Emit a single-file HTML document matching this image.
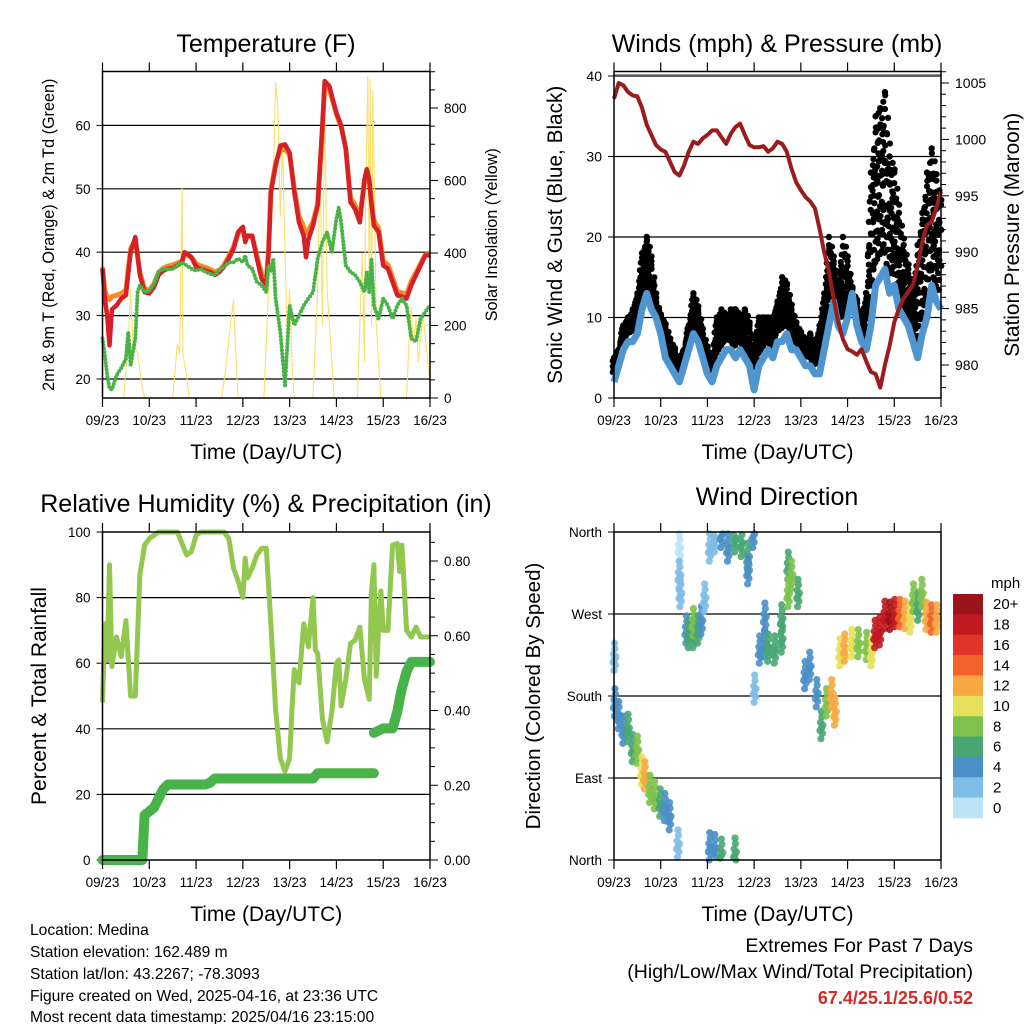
<!DOCTYPE html>
<html><head><meta charset="utf-8">
<style>
html,body{margin:0;padding:0;background:#fff;}
svg{display:block;font-family:"Liberation Sans",Arial,sans-serif;}
</style></head>
<body>
<svg id="s" width="1024" height="1024" viewBox="0 0 1024 1024" xmlns="http://www.w3.org/2000/svg">
<rect width="1024" height="1024" fill="#fff"/>
<g id="g"></g>
<g font-size="15.6" fill="#000">
<text x="30" y="935">Location: Medina</text>
<text x="30" y="957">Station elevation: 162.489 m</text>
<text x="30" y="979">Station lat/lon: 43.2267; -78.3093</text>
<text x="30" y="1001">Figure created on Wed, 2025-04-16, at 23:36 UTC</text>
<text x="30" y="1022">Most recent data timestamp: 2025/04/16 23:15:00</text>
</g>
<g font-size="19.5" text-anchor="end">
<text x="973" y="952">Extremes For Past 7 Days</text>
<text x="973" y="978">(High/Low/Max Wind/Total Precipitation)</text>
<text x="973" y="1004" fill="#d42a2a" font-weight="bold" font-size="18">67.4/25.1/25.6/0.52</text>
</g>
</svg>
<script>
// ---------- DATA ----------
const dayLabels=["09/23","10/23","11/23","12/23","13/23","14/23","15/23","16/23"];
// Temperature (F)
const tempT=[0,0.05,0.1,0.15,0.2,0.3,0.4,0.5,0.6,0.7,0.8,0.9,1.0,1.1,1.2,1.3,1.4,1.5,1.6,1.7,1.75,1.8,1.9,2.0,2.1,2.2,2.3,2.4,2.5,2.6,2.7,2.8,2.9,3.0,3.05,3.1,3.2,3.3,3.4,3.5,3.55,3.6,3.7,3.8,3.9,4.0,4.1,4.2,4.3,4.35,4.4,4.5,4.6,4.7,4.75,4.85,4.9,5.0,5.1,5.2,5.3,5.4,5.5,5.6,5.65,5.7,5.75,5.8,5.9,6.0,6.1,6.2,6.3,6.4,6.5,6.6,6.7,6.8,6.9,7.0];
const temp2m=[37.4,32.7,30,25.3,31,31.6,32.7,33.2,40,42.4,36.4,33.7,33.5,34.5,36.4,37.1,37.4,37.5,37.9,38.4,40,39.8,39.2,37.7,37.4,37.1,36.9,36.4,36.9,37.7,39,40.5,43.2,44,41.6,42.6,42.6,39,35.8,34.8,40,49.4,53.6,56.8,57,55.7,49.5,44.7,42.6,39.2,42,44.2,47.4,60,67,66.2,64.7,62,60,56.3,47.9,46.8,44.7,51.5,53.1,51.5,47.5,44.2,43.2,37.9,37.4,35.3,33.2,33,32.7,34.8,36.4,37.9,39.5,39.5];
const temp9m=[37.6,34,33,32.5,33,33.2,33.5,34,40.5,42,36.8,34.2,34,35,36.8,37.5,37.8,38,38.3,38.6,39.8,39.6,39.2,38.2,37.8,37.6,37.3,36.9,37.2,38,39.4,40.8,43,43.6,42,42.6,42.4,39.5,36.6,35.4,40.5,49.8,54,56.2,56.2,55.4,50,45.6,44,43,43.4,44.8,47.6,59.5,66.2,65.8,64.4,61.8,59.8,56.4,48.6,47.4,45.4,51.2,52.6,51.2,48,45,43.8,38.6,38,36,33.8,33.6,33.4,35.4,36.8,38.2,39.6,39.6];
const dewT=[0,0.05,0.1,0.15,0.2,0.3,0.4,0.5,0.55,0.6,0.7,0.75,0.8,0.9,1.0,1.1,1.2,1.3,1.4,1.5,1.6,1.7,1.8,1.9,2.0,2.1,2.2,2.3,2.4,2.5,2.6,2.7,2.8,2.9,3.0,3.05,3.1,3.2,3.3,3.4,3.5,3.55,3.6,3.65,3.7,3.8,3.9,3.95,4.0,4.1,4.2,4.3,4.4,4.5,4.6,4.7,4.8,4.9,5.0,5.05,5.1,5.2,5.3,5.4,5.5,5.6,5.65,5.7,5.75,5.8,5.9,6.0,6.1,6.2,6.3,6.4,6.5,6.6,6.7,6.8,6.9,7.0];
const dew2m=[26.4,23.8,20.6,18.5,18.3,20.6,21.7,23.2,27.4,22.2,26.4,33.7,34.8,33.7,33.9,35,36.9,37.4,37.3,37.4,37.9,38.4,37.9,37.4,37.1,37.4,36.9,36.6,36.4,37.2,37.7,38.4,38.4,39,38.4,39.5,37.9,37.4,35.3,34.8,33.7,37.9,36.9,39,32.7,27.4,19,25.3,31.6,28.5,30,31.6,32.7,33.7,39,41.6,43.2,40,45.3,47.1,44.7,37.9,36.9,36.4,35.3,33.7,36.9,33.7,39,31.6,29.5,32.7,31.6,29.5,31.6,32.7,31.6,26.4,25.9,29.5,30.6,31.6];
// Solar insolation (W/m2)
const solarT=[0,0.45,0.55,0.6,0.65,0.7,0.75,0.85,0.9,1.5,1.6,1.65,1.7,1.72,1.8,1.85,2.55,2.65,2.75,2.8,2.85,2.9,3.45,3.55,3.65,3.7,3.75,3.8,3.85,3.9,3.95,4.0,4.05,4.1,4.5,4.6,4.65,4.7,4.75,4.8,4.9,4.95,5.45,5.5,5.55,5.6,5.62,5.67,5.7,5.72,5.75,5.78,5.82,5.85,5.95,6.5,6.55,6.6,6.65,6.7,6.75,6.85,6.95,7.0];
const solarV=[0,0,150,300,150,140,120,30,0,0,150,120,580,120,60,0,0,100,220,270,120,0,0,300,600,870,800,500,700,400,150,300,100,0,0,300,650,200,840,300,100,0,0,200,400,100,500,890,300,880,200,850,500,200,0,0,150,250,150,220,100,230,100,50];
// Winds (mph) every 0.1 day
const windT=[0,0.1,0.2,0.3,0.4,0.5,0.6,0.7,0.8,0.9,1.0,1.1,1.2,1.3,1.4,1.5,1.6,1.7,1.8,1.9,2.0,2.1,2.2,2.3,2.4,2.5,2.6,2.7,2.8,2.9,3.0,3.1,3.2,3.3,3.4,3.5,3.6,3.7,3.8,3.9,4.0,4.1,4.2,4.3,4.4,4.5,4.6,4.7,4.8,4.9,5.0,5.1,5.2,5.3,5.4,5.5,5.6,5.7,5.8,5.9,6.0,6.1,6.2,6.3,6.4,6.5,6.6,6.7,6.8,6.9,7.0];
const windSpd=[2,4,6,7,7,8,11,13,11,10,8,5,4,3,2,4,6,8,7,5,3,2,4,5,6,6,5,6,5,4,1,4,5,6,5,7,7,8,6,6,5,4,4,3,3,6,9,12,9,8,10,13,9,7,6,9,14,15,16,13,14,11,10,9,7,5,8,10,14,12,11];
const windGust=[5,6,9,10,11,13,18,20,17,12,10,9,7,6,4,6,9,13,11,8,6,5,10,11,10,11,11,10,11,9,6,10,10,10,10,12,15,14,11,9,8,7,8,6,9,13,20,17,14,20,17,13,12,9,13,28,35,36,38,30,28,23,19,16,13,19,23,28,31,27,24];
const pres=[1003.6,1005,1004.8,1004.2,1003.9,1003.8,1002.8,1001.3,1000.4,999.5,999.1,998.9,998,997.1,996.8,997.7,998.9,999.8,999.6,1000.1,1000.4,1000.8,1000.8,1000.2,999.6,1000.5,1001.1,1001.4,1000.4,999.5,999.3,999.3,999.4,998.9,999.2,999.8,999.6,998.9,997.4,996.2,995.5,994.9,994.5,993.9,992.1,990,988.3,985.9,983.8,982.3,981.4,981.2,980.9,981.4,980.3,979.4,979.2,978,980,981.7,983.8,985,985.9,986.5,987.1,988.8,990.9,992.4,992.7,993.9,995.4];
// Relative humidity (%)
const rhT=[0,0.05,0.1,0.15,0.2,0.3,0.4,0.5,0.6,0.7,0.8,0.9,1.0,1.1,1.2,1.6,1.7,1.8,1.9,2.0,2.1,2.6,2.7,2.8,2.9,3.0,3.05,3.1,3.2,3.3,3.4,3.5,3.6,3.7,3.8,3.9,4.0,4.05,4.1,4.2,4.3,4.4,4.5,4.55,4.6,4.7,4.8,4.9,5.0,5.05,5.1,5.2,5.3,5.4,5.5,5.6,5.7,5.75,5.8,5.85,5.9,5.95,6.0,6.1,6.2,6.3,6.35,6.4,6.5,6.6,6.7,6.8,6.9,7.0];
const rh=[48,72,61,90,59,68,62,73,50,50,87,96,98,99,100,100,96.5,93,94,99,100,100,98,89,85,80,92,86,89,93,95,95,72,46,31,27,31,46,58,54,72,65,80,64,63,43,36,45,60,61,47,55,66,67,71,55,49,82,90,56,70,82,70,70,96,96.5,88,96,70,68,71,68,68,68];
// Precipitation (in, cumulative)
const prT=[0,0.85,0.9,1.0,1.1,1.2,1.3,1.4,2.2,2.3,2.4,4.5,4.6,5.8];
const pr=[0,0,0.12,0.13,0.14,0.165,0.19,0.202,0.202,0.207,0.218,0.218,0.232,0.232];
const pr2T=[5.8,6.0,6.2,6.3,6.35,6.4,6.5,6.6,7.0];
const pr2=[0.34,0.352,0.352,0.397,0.43,0.459,0.504,0.53,0.53];
// Wind direction (deg) & speed (mph)
const dirT=[0.01,0.02,0.1,0.2,0.3,0.4,0.5,0.6,0.66,0.77,0.87,0.99,1.09,1.19,1.37,1.4,1.4,1.42,1.55,1.6,1.7,1.7,1.8,1.87,1.94,2.05,2.05,2.16,2.16,2.3,2.3,2.44,2.59,2.59,2.73,2.87,2.87,2.98,3.01,3.12,3.23,3.23,3.3,3.44,3.59,3.59,3.73,3.73,3.8,3.94,4.09,4.19,4.34,4.44,4.55,4.66,4.73,4.84,4.94,5.09,5.23,5.41,5.51,5.59,5.69,5.8,5.91,6.01,6.12,6.23,6.34,6.41,6.51,6.59,6.69,6.8,6.91];
const dirDeg=[220,170,156,140,142,120,118,95,90,75,68,60,55,45,15,340,310,290,250,245,245,258,250,260,285,340,12,350,10,355,5,340,350,6,345,330,315,355,185,228,264,235,230,228,262,240,320,290,310,290,200,210,180,145,170,180,160,225,230,235,235,232,225,245,248,266,265,268,268,266,262,285,275,290,265,262,262];
const dirSpd=[3,4,4,5,6,7,9,11,13,9,8,6,5,4,2,1,2,3,5,6,6,8,7,5,2,3,4,3,5,5,6,4,6,6,6,6,4,4,2,4,4,5,6,7,6,6,7,8,8,7,4,4,4,6,8,12,13,10,13,11,9,8,11,18,19,19,20,19,14,12,10,8,7,9,13,14,13];
const speedBins=["0","2","4","6","8","10","12","14","16","18","20+"];
const speedColors=["#bde3f7","#7fbde6","#4a8fc7","#49a673","#7dc24c","#e6e05a","#f8a842","#f2622a","#e0332a","#c0191f","#9b141b"];

// ---------- DRAW ----------
const NS="http://www.w3.org/2000/svg";
const root=document.getElementById('g');
function el(tag,attrs,parent){const e=document.createElementNS(NS,tag);for(const k in attrs)e.setAttribute(k,attrs[k]);(parent||root).appendChild(e);return e;}
function txt(str,attrs,parent){const e=el('text',attrs,parent);e.textContent=str;return e;}
function lin(d0,d1,r0,r1){return v=>r0+(v-d0)*(r1-r0)/(d1-d0);}
function pts(xs,ys,fx,fy){return xs.map((x,i)=>fx(x).toFixed(1)+','+fy(ys[i]).toFixed(1)).join(' ');}

function panel(name,L,T,R,B){
  const g=el('g',{});
  
  
  const x=lin(0,7,L,R);
  return {g,x,L,T,R,B};
}
function frame(p){
  const f=el('rect',{x:p.L,y:p.T,width:p.R-p.L,height:p.B-p.T,fill:'none',stroke:'#000','stroke-width':1.5},p.g);
  
  
  const ax=el('g',{},p.g);
  
  
  dayLabels.forEach((lab,i)=>{
    const xx=p.x(i);
    el('line',{x1:xx,x2:xx,y1:p.B,y2:p.B+9,stroke:'#000','stroke-width':1.2},ax);
    el('line',{x1:xx,x2:xx,y1:p.T,y2:p.T-9,stroke:'#000','stroke-width':1.2},ax);
    const t=txt(lab,{x:xx,y:p.B+27,'text-anchor':'middle','font-size':13.5},ax);
    
    
  });
  const xt=txt('Time (Day/UTC)',{x:(p.L+p.R)/2,y:p.B+61,'text-anchor':'middle','font-size':21},p.g);
  
  
}
function yAxis(p,ticks,labels,fy,side,grid,fs){
  const ax=el('g',{},p.g);
  
  
  ticks.forEach((v,i)=>{
    const yy=fy(v);
    if(grid) el('line',{x1:p.L,x2:p.R,y1:yy,y2:yy,stroke:'#000','stroke-width':1.2},ax);
    if(side==='left'){
      el('line',{x1:p.L-6,x2:p.L,y1:yy,y2:yy,stroke:'#000'},ax);
      txt(labels[i],{x:p.L-12,y:yy+5,'text-anchor':'end','font-size':fs||13.5},ax);
    }else{
      el('line',{x1:p.R,x2:p.R+8,y1:yy,y2:yy,stroke:'#000'},ax);
      txt(labels[i],{x:p.R+14,y:yy+5,'text-anchor':'start','font-size':fs||13.5},ax);
    }
  });
}
function minor(p,vals,fy){
  vals.forEach(v=>{const yy=fy(v);if(yy>p.T&&yy<p.B)el('line',{x1:p.R,x2:p.R+5,y1:yy,y2:yy,stroke:'#000'},p.g);});
}
function ytitle(p,str,x,size){
  return txt(str,{x:0,y:0,'text-anchor':'middle','font-size':size,transform:`translate(${x},${(p.T+p.B)/2}) rotate(-90)`},p.g);
}
function title(str,x,y){const t=txt(str,{x:x,y:y,'text-anchor':'middle','font-size':25});}

// Panel 1: Temperature
title('Temperature (F)',266,52);
const p1=panel('temperature-panel',102.5,71.5,430,398);
const y1=lin(20,60,379,125.4);
const y1r=lin(0,800,398,108);
yAxis(p1,[20,30,40,50,60],["20","30","40","50","60"],y1,'left',true);
yAxis(p1,[0,200,400,600,800],["0","200","400","600","800"],y1r,'right',false);
minor(p1,[100,300,500,700,900],y1r);
minor(p1,[50,150,250,350,450,550,650,750,850],y1r);
const sol=el('polyline',{points:pts(solarT,solarV,p1.x,y1r),fill:'none',stroke:'#f9e06a','stroke-width':1.1},p1.g);


const t9=el('polyline',{points:pts(tempT,temp9m,p1.x,y1),fill:'none',stroke:'#f58a2a','stroke-width':5,'stroke-linejoin':'round'},p1.g);


const t2=el('polyline',{points:pts(tempT,temp2m,p1.x,y1),fill:'none',stroke:'#d62027','stroke-width':4.5,'stroke-linejoin':'round'},p1.g);


const td=el('polyline',{points:pts(dewT,dew2m,p1.x,y1),fill:'none',stroke:'#4bb248','stroke-width':4,'stroke-linecap':'round','stroke-dasharray':'0 3.5'},p1.g);


frame(p1);
const yt1=ytitle(p1,'2m & 9m T (Red, Orange) & 2m Td (Green)',54,16.2);


const yt1r=ytitle(p1,'Solar Insolation (Yellow)',497,16.2);



// Panel 2: Winds & Pressure
title('Winds (mph) & Pressure (mb)',777,52);
const p2=panel('winds-pressure-panel',614,71.5,941,398);
const y2=lin(0,40,398,76);
const y2r=lin(980,1005,365,83);
el('line',{x1:614,x2:941,y1:74.5,y2:74.5,stroke:'#888','stroke-width':1},p2.g);
yAxis(p2,[0,10,20,30,40],["0","10","20","30","40"],y2,'left',false,14);
[10,20,30,40].forEach(v=>el('line',{x1:614,x2:941,y1:y2(v),y2:y2(v),stroke:'#000','stroke-width':1.2},p2.g));
yAxis(p2,[980,985,990,995,1000,1005],["980","985","990","995","1000","1005"],y2r,'right',false,14);
minor(p2,[978,979,981,982,983,984,986,987,988,989,991,992,993,994,996,997,998,999,1001,1002,1003,1004,1006],y2r);
const gust=el('g',{},p2.g);


const fracs=[0.1,0.22,0.34,0.46,0.58,0.7,0.8,0.9,1.0];
const subs=[0,0.2,0.4,0.6,0.8];
for(let i=0;i<windT.length-1;i++){
  subs.forEach((s,k)=>{
    const t=windT[i]+s*(windT[i+1]-windT[i]);
    const lo=windSpd[i]+s*(windSpd[i+1]-windSpd[i]);
    const hiA=windGust[i]+s*(windGust[i+1]-windGust[i]);
    const hi=hiA*(k%2?0.9:1);
    fracs.forEach((f,j)=>{
      if((j+k)%3===2) return;
      const v=lo+1+(hi-lo-1)*f;
      el('circle',{cx:(p2.x(t)+((j%3)-1)*1.2).toFixed(1),cy:y2(v).toFixed(1),r:3.1,fill:'#000'},gust);
    });
  });
}
windT.forEach((t,i)=>{el('circle',{cx:p2.x(t),cy:y2(windGust[i]),r:3.2,fill:'#000'},gust);});
const ws=el('polyline',{points:pts(windT,windSpd,p2.x,y2),fill:'none',stroke:'#4f96d0','stroke-width':7,'stroke-linejoin':'round'},p2.g);


const pl=el('polyline',{points:pts(windT,pres,p2.x,y2r),fill:'none',stroke:'#9b1c1c','stroke-width':4,'stroke-linejoin':'round'},p2.g);


frame(p2);
const yt2=ytitle(p2,'Sonic Wind & Gust (Blue, Black)',562,20.8);


const yt2r=ytitle(p2,'Station Pressure (Maroon)',1019,20.8);



// Panel 3: RH & Precip
title('Relative Humidity (%) & Precipitation (in)',266,512);
const p3=panel('humidity-precip-panel',102.5,532,430,860);
const y3=lin(0,100,860,532);
const y3r=lin(0,0.8,860,561);
yAxis(p3,[0,20,40,60,80,100],["0","20","40","60","80","100"],y3,'left',false);
[20,40,60,80].forEach(v=>el('line',{x1:p3.L,x2:p3.R,y1:y3(v),y2:y3(v),stroke:'#000','stroke-width':1.2},p3.g));
yAxis(p3,[0,0.2,0.4,0.6,0.8],["0.00","0.20","0.40","0.60","0.80"],y3r,'right',false);
minor(p3,[0.05,0.1,0.15,0.25,0.3,0.35,0.45,0.5,0.55,0.65,0.7,0.75,0.85],y3r);
const rhl=el('polyline',{points:pts(rhT,rh,p3.x,y3),fill:'none',stroke:'#92c84f','stroke-width':5,'stroke-linejoin':'round'},p3.g);


const prl=el('polyline',{points:pts(prT,pr,p3.x,y3r),fill:'none',stroke:'#48b348','stroke-width':10,'stroke-linejoin':'round','stroke-linecap':'round'},p3.g);


const prl2=el('polyline',{points:pts(pr2T,pr2,p3.x,y3r),fill:'none',stroke:'#48b348','stroke-width':10,'stroke-linejoin':'round','stroke-linecap':'round'},p3.g);


frame(p3);
const yt3=ytitle(p3,'Percent & Total Rainfall',46,21);



// Panel 4: Wind direction
title('Wind Direction',777,505);
const p4=panel('wind-direction-panel',614,532,941,860);
const y4=lin(0,360,860,532);
yAxis(p4,[0,90,180,270,360],["North","East","South","West","North"],y4,'left',false);
[90,180,270].forEach(v=>el('line',{x1:p4.L,x2:p4.R,y1:y4(v),y2:y4(v),stroke:'#000','stroke-width':1.2},p4.g));
const sc=el('g',{},p4.g);


const jx=[0,-0.02,0.02,-0.01,0.01,0,-0.03,0.03];
const jd=[0,6,-6,-12,12,18,-3,3];
dirT.forEach((t,i)=>{
  const ci=Math.min(10,Math.floor(dirSpd[i]/2));
  jx.forEach((dx,k)=>{
    let d=dirDeg[i]+jd[k];
    if(d<0||d>360) return;
    el('circle',{cx:p4.x(t+dx),cy:y4(d),r:3.6,fill:speedColors[ci],'fill-opacity':0.9},sc);
  });
});
frame(p4);
const yt4=ytitle(p4,'Direction (Colored By Speed)',540,20.5);



// colorbar
const cb=el('g',{});


txt('mph',{x:991,y:588,'font-size':15},cb);
const bh=(818-594)/11;
for(let i=0;i<11;i++){
  const idx=10-i;
  el('rect',{x:953,y:594+i*bh,width:30,height:bh+0.3,fill:speedColors[idx]},cb);
  txt(speedBins[idx],{x:993,y:594+i*bh+bh/2+5,'font-size':15},cb);
}
</script>
</body></html>
